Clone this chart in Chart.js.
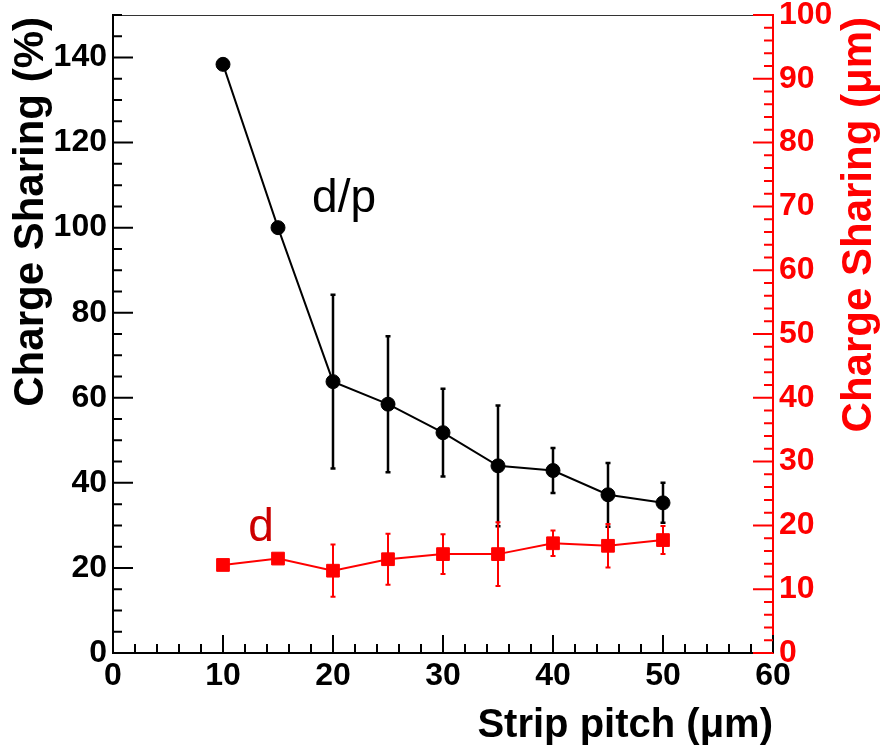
<!DOCTYPE html>
<html>
<head>
<meta charset="utf-8">
<script src="https://cdn.jsdelivr.net/npm/chart.js@4.4.1/dist/chart.umd.min.js"></script>
<style>
  html, body { margin: 0; padding: 0; background: #fff; }
  #wrap { width: 880px; height: 749px; }
</style>
</head>
<body>
<div id="wrap"><canvas id="c" width="880" height="749"></canvas></div>
<script>
// Strip pitch (µm)
const pitch = [10, 15, 20, 25, 30, 35, 40, 45, 50];
// Charge sharing relative to pitch, d/p (%)
const sharingPct = [138.4, 100.0, 63.8, 58.5, 51.8, 44.0, 42.9, 37.2, 35.3];
const sharingPctErr = [0, 0, 20.4, 16.0, 10.3, 14.2, 5.3, 7.5, 4.7];
// Charge sharing width, d (µm)
const sharingUm = [13.8, 14.8, 12.9, 14.7, 15.5, 15.5, 17.2, 16.8, 17.7];
const sharingUmErr = [0, 0, 4.1, 4.0, 3.1, 5.0, 2.0, 3.4, 2.2];
// Axis tick labels
const pitchTicks = [0, 10, 20, 30, 40, 50, 60];
const pctTicks = [0, 20, 40, 60, 80, 100, 120, 140];
const umTicks = [0, 10, 20, 30, 40, 50, 60, 70, 80, 90, 100];

const BLACK = '#000000';
const RED = '#ff0000';
const FONT = '"Liberation Sans", Arial, Helvetica, sans-serif';

function fixed(size, prop) {
  return function (scale) {
    scale[prop] = size;
    scale.paddingTop = 0; scale.paddingBottom = 0;
    scale.paddingLeft = 0; scale.paddingRight = 0;
  };
}
function useTicks(values) {
  return function (scale) { scale.ticks = values.map(v => ({ value: v })); };
}

// Vertical error bars with short caps
const errorBars = {
  id: 'errorBars',
  beforeDatasetsDraw(chart) {
    const ctx = chart.ctx;
    const xs = chart.scales.x;
    chart.data.datasets.forEach((ds) => {
      const ys = chart.scales[ds.yAxisID];
      ctx.save();
      ctx.strokeStyle = ds.borderColor;
      ctx.lineWidth = ds.errWidth;
      ds.data.forEach((p, j) => {
        const e = ds.errors[j];
        if (!e) return;
        const x = xs.getPixelForValue(p.x);
        const y1 = ys.getPixelForValue(p.y + e);
        const y2 = ys.getPixelForValue(p.y - e);
        ctx.beginPath();
        ctx.moveTo(x, y1); ctx.lineTo(x, y2);
        ctx.moveTo(x - 2.5, y1); ctx.lineTo(x + 2.5, y1);
        ctx.moveTo(x - 2.5, y2); ctx.lineTo(x + 2.5, y2);
        ctx.stroke();
      });
      ctx.restore();
    });
  }
};

// Inward tick marks, frame, axis titles and series labels
const frame = {
  id: 'frame',
  afterDraw(chart) {
    const ctx = chart.ctx;
    const a = chart.chartArea;
    const xs = chart.scales.x, yl = chart.scales.y, yr = chart.scales.y2;
    ctx.save();
    // top frame line
    ctx.strokeStyle = '#333';
    ctx.lineWidth = 1.2;
    ctx.beginPath(); ctx.moveTo(a.left, a.top + 0.5); ctx.lineTo(a.right, a.top + 0.5); ctx.stroke();

    ctx.lineWidth = 2;
    // bottom axis ticks
    ctx.strokeStyle = BLACK;
    ctx.beginPath();
    for (let v = 0; v <= 60; v += 2) {
      const x = xs.getPixelForValue(v);
      const len = v % 10 === 0 ? 18 : 9;
      ctx.moveTo(x, a.bottom); ctx.lineTo(x, a.bottom - len);
    }
    // left axis ticks
    for (let v = 0; v <= 150; v += 5) {
      const y = yl.getPixelForValue(v);
      const len = v % 20 === 0 ? 20 : 9;
      ctx.moveTo(a.left, y); ctx.lineTo(a.left + len, y);
    }
    ctx.stroke();
    // right axis ticks
    ctx.strokeStyle = RED;
    ctx.beginPath();
    for (let v = 0; v <= 100; v += 2) {
      const y = yr.getPixelForValue(v);
      const len = v % 10 === 0 ? 20 : 9;
      ctx.moveTo(a.right, y); ctx.lineTo(a.right - len, y);
    }
    ctx.stroke();

    // axis titles
    ctx.font = 'bold 40px ' + FONT;
    ctx.fillStyle = BLACK;
    ctx.textAlign = 'right';
    ctx.textBaseline = 'alphabetic';
    ctx.fillText('Strip pitch (\u03bcm)', a.right, 737);

    ctx.font = 'bold 42px ' + FONT;
    ctx.save();
    ctx.translate(43, a.top + 2);
    ctx.rotate(-Math.PI / 2);
    ctx.textAlign = 'right';
    ctx.fillText('Charge Sharing (%)', 0, 0);
    ctx.restore();

    ctx.save();
    ctx.fillStyle = RED;
    ctx.translate(871, a.top + 2);
    ctx.rotate(-Math.PI / 2);
    ctx.textAlign = 'right';
    ctx.fillText('Charge Sharing (\u03bcm)', 0, 0);
    ctx.restore();

    // series labels
    ctx.font = '46px ' + FONT;
    ctx.textAlign = 'left';
    ctx.fillStyle = BLACK;
    ctx.fillText('d/p', xs.getPixelForValue(18.1), yl.getPixelForValue(103.7));
    ctx.fillStyle = '#cc0000';
    ctx.fillText('d', xs.getPixelForValue(12.3), yl.getPixelForValue(26.3));
    ctx.restore();
  }
};

const tickFont = { family: FONT, size: 32, weight: 'bold', lineHeight: 1.2 };

new Chart(document.getElementById('c'), {
  type: 'line',
  data: {
    datasets: [
      {
        label: 'd/p',
        data: pitch.map((x, i) => ({ x, y: sharingPct[i] })),
        errors: sharingPctErr,
        errWidth: 2.5,
        yAxisID: 'y',
        borderColor: BLACK,
        backgroundColor: BLACK,
        borderWidth: 2,
        pointStyle: 'circle',
        pointRadius: 7,
        pointBorderWidth: 1,
        tension: 0
      },
      {
        label: 'd',
        data: pitch.map((x, i) => ({ x, y: sharingUm[i] })),
        errors: sharingUmErr,
        errWidth: 2,
        yAxisID: 'y2',
        borderColor: RED,
        backgroundColor: RED,
        borderWidth: 2,
        pointStyle: 'rect',
        pointRadius: 9,
        pointBorderWidth: 1,
        tension: 0
      }
    ]
  },
  options: {
    responsive: false,
    animation: false,
    events: [],
    layout: { padding: { top: 15, left: 0, right: 0, bottom: 0 } },
    plugins: { legend: { display: false }, tooltip: { enabled: false } },
    scales: {
      x: {
        type: 'linear',
        position: 'bottom',
        min: 0, max: 60,
        afterBuildTicks: useTicks(pitchTicks),
        afterFit: fixed(96, 'height'),
        grid: { display: false, drawTicks: false },
        border: { display: true, color: BLACK, width: 2 },
        ticks: { color: BLACK, font: tickFont, padding: 4, maxRotation: 0, autoSkip: false }
      },
      y: {
        type: 'linear',
        position: 'left',
        min: 0, max: 150,
        afterBuildTicks: useTicks(pctTicks),
        afterFit: fixed(113, 'width'),
        grid: { display: false, drawTicks: false },
        border: { display: true, color: BLACK, width: 2 },
        ticks: { color: BLACK, font: tickFont, padding: 6, autoSkip: false }
      },
      y2: {
        type: 'linear',
        position: 'right',
        min: 0, max: 100,
        afterBuildTicks: useTicks(umTicks),
        afterFit: fixed(107, 'width'),
        grid: { display: false, drawTicks: false },
        border: { display: true, color: RED, width: 2 },
        ticks: { color: RED, font: tickFont, padding: 6, autoSkip: false }
      }
    }
  },
  plugins: [errorBars, frame]
});
</script>
</body>
</html>
